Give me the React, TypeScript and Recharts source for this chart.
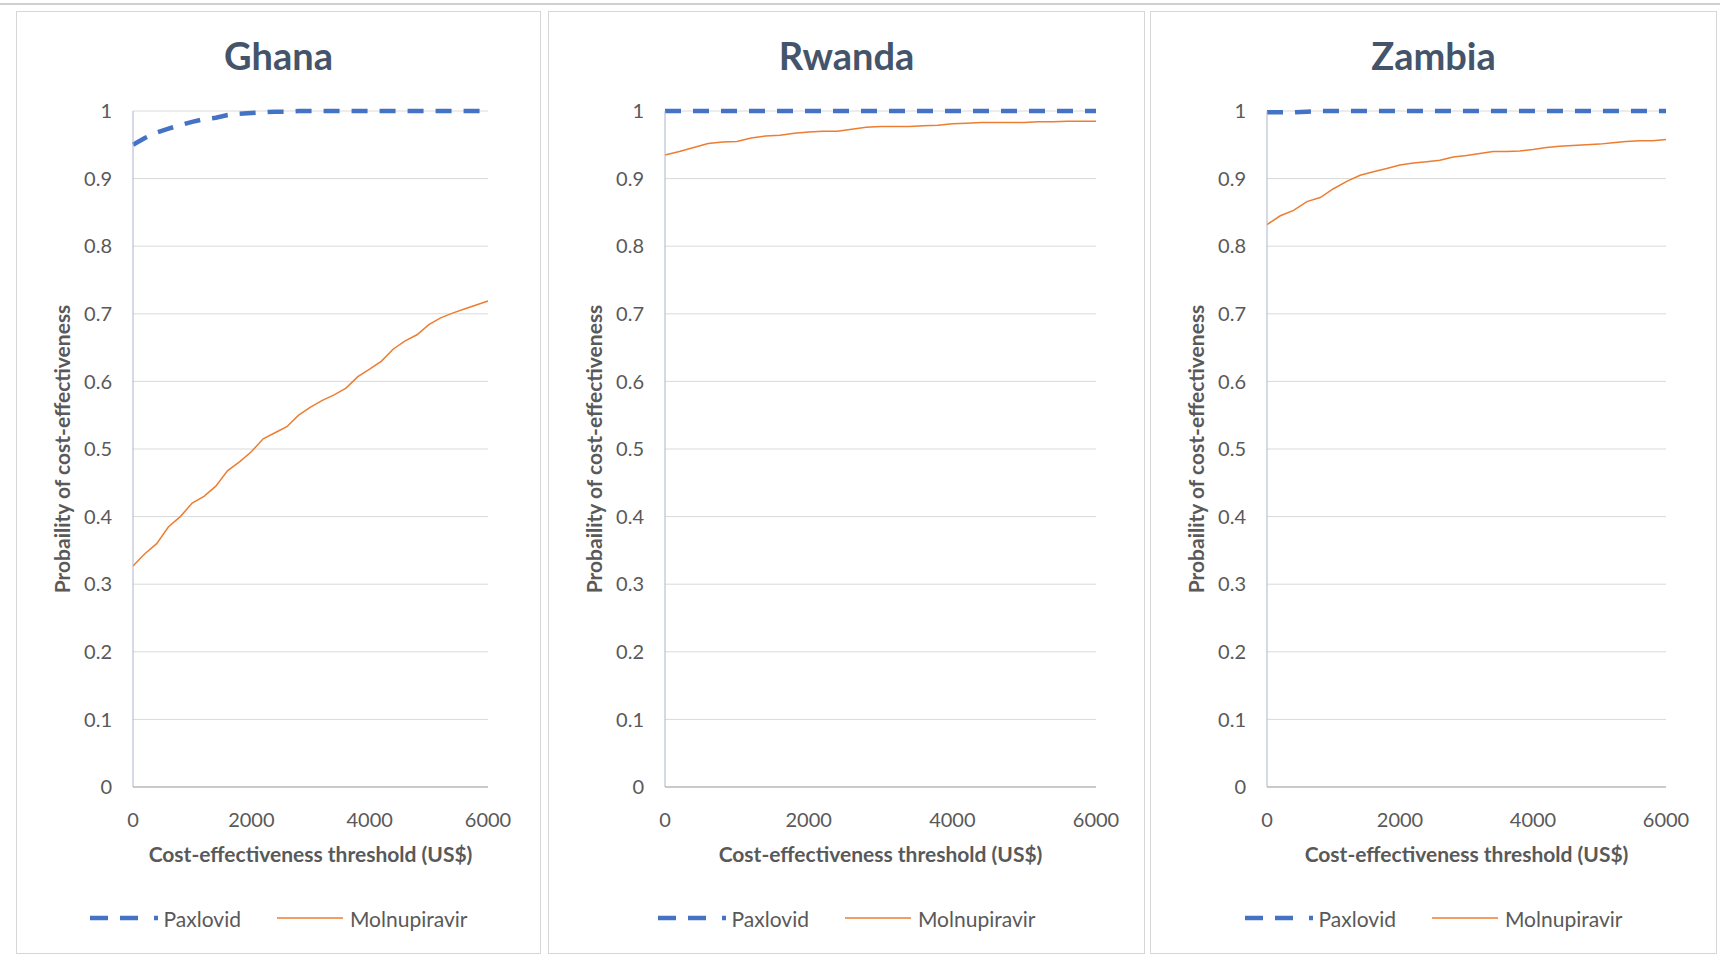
import { LineChart, Line, XAxis, YAxis, CartesianGrid, Legend } from "recharts";

const thresholds = [
  0, 200, 400, 600, 800, 1000, 1200, 1400, 1600, 1800, 2000, 2200, 2400, 2600, 2800, 3000,
  3200, 3400, 3600, 3800, 4000, 4200, 4400, 4600, 4800, 5000, 5200, 5400, 5600, 5800, 6000,
];

const ghanaPaxlovid = [
  0.95, 0.96, 0.968, 0.974, 0.979, 0.984, 0.988, 0.99, 0.994, 0.996, 0.997, 0.998, 0.999, 0.999,
  1, 1, 1, 1, 1, 1, 1, 1, 1, 1, 1, 1, 1, 1, 1, 1, 1,
];
const ghanaMolnupiravir = [
  0.327, 0.345, 0.36, 0.385, 0.4, 0.42, 0.43, 0.445, 0.468, 0.481, 0.496, 0.515, 0.524, 0.533,
  0.55, 0.562, 0.572, 0.58, 0.59, 0.607, 0.618, 0.63, 0.648, 0.66, 0.669, 0.684, 0.694, 0.701,
  0.707, 0.713, 0.719,
];

const rwandaPaxlovid = [
  1, 1, 1, 1, 1, 1, 1, 1, 1, 1, 1, 1, 1, 1, 1, 1, 1, 1, 1, 1, 1, 1, 1, 1, 1, 1, 1, 1, 1, 1, 1,
];
const rwandaMolnupiravir = [
  0.935, 0.94, 0.946, 0.952, 0.954, 0.955, 0.96, 0.963, 0.964, 0.967, 0.969, 0.97, 0.97, 0.973,
  0.976, 0.977, 0.977, 0.977, 0.978, 0.979, 0.981, 0.982, 0.983, 0.983, 0.983, 0.983, 0.984,
  0.984, 0.985, 0.985, 0.985,
];

const zambiaPaxlovid = [
  0.998, 0.998, 0.998, 0.999, 1, 1, 1, 1, 1, 1, 1, 1, 1, 1, 1, 1, 1, 1, 1, 1, 1, 1, 1, 1, 1, 1,
  1, 1, 1, 1, 1,
];
const zambiaMolnupiravir = [
  0.832, 0.845, 0.853, 0.866, 0.872, 0.885, 0.896, 0.905, 0.91, 0.915, 0.92, 0.923, 0.925, 0.927,
  0.932, 0.934, 0.937, 0.94, 0.94, 0.941, 0.943, 0.946, 0.948, 0.949, 0.95, 0.951, 0.953, 0.955,
  0.956, 0.956, 0.958,
];

const xTicks = [0, 2000, 4000, 6000];
const yTicks = [0, 0.1, 0.2, 0.3, 0.4, 0.5, 0.6, 0.7, 0.8, 0.9, 1];

const PAX_COLOR = "#4472C4";
const MOL_COLOR = "#ED7D31";
const TEXT = "#595959";
const FONT = "Lato, 'Noto Sans', sans-serif";

const PANEL_TOP = 11;
const PANEL_HEIGHT = 943;

const buildRows = (pax: number[], mol: number[]) =>
  thresholds.map((t, i) => ({ threshold: t, Paxlovid: pax[i], Molnupiravir: mol[i] }));

const LegendBox = ({ width }: { width: number }) => (
  <div
    style={{
      width,
      height: 50,
      display: "flex",
      alignItems: "center",
      justifyContent: "center",
      fontFamily: FONT,
      fontSize: 21,
      color: TEXT,
    }}
  >
    <svg width={68} height={10} style={{ marginRight: 6 }}>
      <line x1={0} y1={5} x2={68} y2={5} stroke={PAX_COLOR} strokeWidth={4.5} strokeDasharray="18 12 18 16 4" />
    </svg>
    <span>Paxlovid</span>
    <svg width={66} height={10} style={{ marginLeft: 36, marginRight: 7 }}>
      <line x1={0} y1={5} x2={66} y2={5} stroke={MOL_COLOR} strokeWidth={1.5} />
    </svg>
    <span>Molnupiravir</span>
  </div>
);

type PanelProps = {
  title: string;
  left: number;
  width: number;
  marginRight: number;
  pax: number[];
  mol: number[];
};

const Panel = ({ title, left, width, marginRight, pax, mol }: PanelProps) => {
  const chartWidth = width - 2;
  const chartHeight = PANEL_HEIGHT - 2;
  const rows = buildRows(pax, mol);
  return (
    <>
      <div
        style={{
          position: "absolute",
          left,
          top: PANEL_TOP,
          width,
          height: PANEL_HEIGHT,
          boxSizing: "border-box",
          border: "1.5px solid #d6d6d6",
        }}
      />
      <div
        style={{
          position: "absolute",
          left: left + 1,
          top: PANEL_TOP + 25,
          width: chartWidth,
          textAlign: "center",
          fontFamily: FONT,
          fontWeight: 700,
          fontSize: 38,
          lineHeight: "38px",
          color: "#44546A",
        }}
      >
        {title}
      </div>
      <div style={{ position: "absolute", left: left + 1, top: PANEL_TOP + 1, fontFamily: FONT }}>
        <LineChart
          width={chartWidth}
          height={chartHeight}
          data={rows}
          margin={{ top: 99, right: marginRight, left: 20, bottom: 10 }}
        >
          <CartesianGrid vertical={false} stroke="#d9d9d9" />
          <XAxis
            dataKey="threshold"
            type="number"
            domain={[0, 6000]}
            ticks={xTicks}
            tickLine={false}
            axisLine={{ stroke: "#bfbfbf", strokeWidth: 1.5 }}
            tick={{ fill: TEXT, fontSize: 20 }}
            tickMargin={20}
            height={106}
            label={{
              value: "Cost-effectiveness threshold (US$)",
              position: "insideBottom",
              offset: 31,
              fill: TEXT,
              fontSize: 21,
              fontWeight: 700,
            }}
          />
          <YAxis
            type="number"
            domain={[0, 1]}
            ticks={yTicks}
            tickLine={false}
            axisLine={{ stroke: "#aab4cc" }}
            tick={{ fill: TEXT, fontSize: 20 }}
            tickMargin={15}
            width={96}
            label={{
              value: "Probaility of cost-effectiveness",
              angle: -90,
              position: "insideLeft",
              offset: 26,
              fill: TEXT,
              fontSize: 21,
              fontWeight: 700,
              style: { textAnchor: "middle" },
            }}
          />
          <Legend
            verticalAlign="bottom"
            height={50}
            wrapperStyle={{ left: 0, width: chartWidth }}
            content={() => <LegendBox width={chartWidth} />}
          />
          <Line
            dataKey="Molnupiravir"
            stroke={MOL_COLOR}
            strokeWidth={1.5}
            dot={false}
            type="linear"
            isAnimationActive={false}
          />
          <Line
            dataKey="Paxlovid"
            stroke={PAX_COLOR}
            strokeWidth={4.5}
            strokeDasharray="16 12"
            dot={false}
            type="linear"
            isAnimationActive={false}
          />
        </LineChart>
      </div>
    </>
  );
};

export default function App() {
  return (
    <div style={{ position: "absolute", left: 0, top: 0, width: 1720, height: 958, background: "#fff" }}>
      <div style={{ position: "absolute", left: 0, top: 3, width: 1720, height: 2, background: "#d0d0d0" }} />
      <Panel title="Ghana" left={16} width={525} marginRight={52} pax={ghanaPaxlovid} mol={ghanaMolnupiravir} />
      <Panel title="Rwanda" left={548} width={597} marginRight={48} pax={rwandaPaxlovid} mol={rwandaMolnupiravir} />
      <Panel title="Zambia" left={1150} width={567} marginRight={50} pax={zambiaPaxlovid} mol={zambiaMolnupiravir} />
    </div>
  );
}
